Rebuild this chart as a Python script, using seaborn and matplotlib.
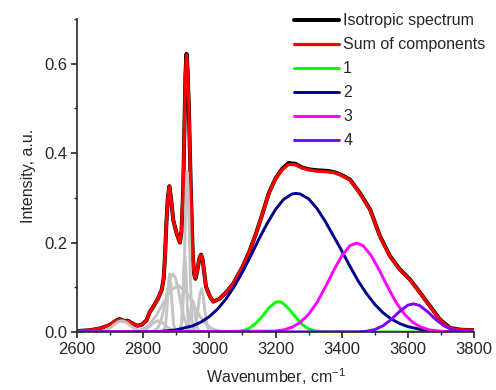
import matplotlib
matplotlib.use("Agg")
import matplotlib.pyplot as plt
import seaborn as sns
from matplotlib.ticker import MultipleLocator

# --- data ---
spec_x = [2600, 2640, 2670, 2700, 2715, 2728, 2742, 2754, 2768, 2782,
          2795, 2810, 2820, 2831, 2845, 2856, 2862, 2866, 2870, 2874,
          2879, 2884, 2891, 2901, 2911, 2916, 2921, 2925, 2928, 2931,
          2934, 2938, 2944, 2950, 2954, 2958, 2964, 2970, 2975, 2980,
          2985, 2990, 3002, 3012, 3030, 3050, 3073, 3100, 3120, 3140,
          3160, 3180, 3200, 3220, 3240, 3260, 3280, 3300, 3320, 3340,
          3360, 3380, 3400, 3425, 3455, 3486, 3516, 3546, 3576, 3607,
          3637, 3667, 3697, 3728, 3760, 3800]
sum_y = [0.002, 0.004, 0.008, 0.016, 0.024, 0.028, 0.025, 0.024, 0.019, 0.014,
         0.016, 0.026, 0.045, 0.057, 0.075, 0.094, 0.120, 0.169, 0.240, 0.295,
         0.325, 0.300, 0.250, 0.221, 0.200, 0.225, 0.318, 0.470, 0.580, 0.620,
         0.590, 0.504, 0.318, 0.169, 0.130, 0.120, 0.139, 0.165, 0.172, 0.161,
         0.130, 0.101, 0.079, 0.068, 0.074, 0.088, 0.109, 0.145, 0.178, 0.218,
         0.263, 0.310, 0.342, 0.363, 0.375, 0.374, 0.367, 0.363, 0.360, 0.359,
         0.358, 0.356, 0.350, 0.340, 0.310, 0.273, 0.213, 0.169, 0.139, 0.116,
         0.087, 0.057, 0.027, 0.008, 0.005, 0.004]
iso_y = [0.002, 0.004, 0.008, 0.016, 0.024, 0.029, 0.025, 0.025, 0.019, 0.014,
         0.016, 0.026, 0.045, 0.057, 0.075, 0.094, 0.120, 0.169, 0.240, 0.295,
         0.326, 0.300, 0.250, 0.221, 0.200, 0.225, 0.318, 0.470, 0.580, 0.622,
         0.590, 0.504, 0.318, 0.169, 0.130, 0.119, 0.139, 0.165, 0.173, 0.161,
         0.130, 0.101, 0.079, 0.068, 0.074, 0.088, 0.109, 0.145, 0.178, 0.218,
         0.263, 0.311, 0.343, 0.365, 0.378, 0.376, 0.368, 0.364, 0.362, 0.361,
         0.360, 0.357, 0.351, 0.341, 0.311, 0.274, 0.214, 0.170, 0.140, 0.117,
         0.088, 0.058, 0.028, 0.009, 0.005, 0.004]

c1_x = [2600, 3060, 3080, 3100, 3120, 3140, 3160, 3180, 3200, 3210,
        3220, 3240, 3260, 3280, 3300, 3320, 3340, 3360, 3800]
c1_y = [0.0, 0.0002, 0.0008, 0.0027, 0.008, 0.019, 0.035, 0.054, 0.0665, 0.068,
        0.066, 0.052, 0.034, 0.017, 0.007, 0.0024, 0.0007, 0.0002, 0.0]

c2_x = [2600, 2800, 2850, 2900, 2950, 2975, 3000, 3025, 3050, 3075,
        3100, 3125, 3150, 3175, 3200, 3225, 3250, 3262, 3275, 3300,
        3325, 3350, 3375, 3400, 3425, 3450, 3475, 3500, 3525, 3550,
        3575, 3600, 3650, 3700, 3750, 3800]
c2_y = [0.0, 0.0003, 0.0014, 0.0047, 0.0138, 0.0222, 0.0344, 0.0514, 0.0736, 0.1012,
        0.134, 0.170, 0.208, 0.243, 0.274, 0.297, 0.3086, 0.310, 0.3085, 0.298,
        0.2766, 0.248, 0.215, 0.182, 0.147, 0.114, 0.086, 0.062, 0.043, 0.029,
        0.019, 0.012, 0.004, 0.0013, 0.0003, 0.0]

c3_x = [2600, 3200, 3225, 3250, 3275, 3300, 3325, 3350, 3375, 3400,
        3425, 3445, 3465, 3490, 3515, 3540, 3565, 3590, 3615, 3640,
        3665, 3690, 3720, 3800]
c3_y = [0.0, 0.002, 0.0048, 0.0107, 0.0215, 0.0395, 0.0657, 0.0994, 0.1365, 0.170,
        0.193, 0.199, 0.193, 0.170, 0.1365, 0.0994, 0.0657, 0.0395, 0.0215, 0.0107,
        0.0048, 0.002, 0.0006, 0.0]

c4_x = [2600, 3450, 3475, 3500, 3525, 3550, 3575, 3600, 3617, 3635,
        3660, 3685, 3710, 3735, 3760, 3785, 3800]
c4_y = [0.0, 0.0004, 0.0017, 0.0055, 0.0139, 0.0283, 0.046, 0.060, 0.063, 0.0595,
        0.0453, 0.0276, 0.0135, 0.0052, 0.0016, 0.0004, 0.0]

# grey C-H sub-bands
gray_x = [
    [2600, 2660, 2680, 2700, 2715, 2725, 2735, 2745, 2755, 2770, 2790, 2810, 2830],
    [2760, 2780, 2800, 2815, 2830, 2845, 2860, 2875, 2890, 2910, 2930],
    [2810, 2830, 2845, 2855, 2865, 2875, 2882, 2890, 2898, 2905, 2915, 2925, 2935, 2950, 2970],
    [2740, 2780, 2800, 2820, 2840, 2860, 2880, 2905, 2930, 2950, 2970, 2990, 3010, 3030, 3050, 3070],
    [2855, 2862, 2868, 2872, 2876, 2880, 2884, 2888, 2892, 2898, 2905],
    [2905, 2911, 2916, 2920, 2923, 2926, 2929, 2932, 2936, 2941, 2947],
    [2905, 2913, 2918, 2923, 2927, 2930, 2933, 2936, 2939, 2943, 2948, 2953, 2961],
    [2922, 2930, 2936, 2941, 2946, 2950, 2954, 2959, 2964, 2970, 2978],
    [2940, 2949, 2955, 2961, 2966, 2971, 2976, 2981, 2986, 2991, 2997, 3003, 3012],
]
gray_y = [
    [0, .0003, .0022, .0094, .018, .023, .025, .023, .018, .0094, .0022, .0003, 0],
    [0, .0003, .0031, .0099, .0198, .025, .0198, .0099, .0031, .0003, 0],
    [0, .0014, .010, .028, .060, .098, .120, .130, .120, .098, .060, .028, .010, .0014, 0],
    [0, .0022, .0069, .0177, .037, .064, .090, .105, .090, .064, .037, .0177, .0069, .0022, .0006, 0],
    [0, .0014, .0176, .053, .104, .130, .104, .053, .0176, .0014, 0],
    [0, .0019, .023, .083, .142, .170, .142, .083, .023, .0019, 0],
    [0, .0032, .025, .110, .234, .322, .358, .322, .234, .110, .025, .0032, 0],
    [0, .0012, .0095, .031, .059, .070, .059, .031, .0095, .0012, 0],
    [0, .0011, .0064, .024, .052, .083, .097, .083, .052, .024, .0064, .0011, 0],
]

sns.set_style("ticks")
plt.rcParams["font.family"] = ["Liberation Sans", "DejaVu Sans"]
plt.rcParams["mathtext.default"] = "regular"

fig = plt.figure(figsize=(4.96, 3.90), dpi=100)
ax = fig.add_axes([77 / 496, 58 / 390, 397 / 496, 313 / 390])

kw = dict(ax=ax, estimator=None, sort=False)
sns.lineplot(x=spec_x, y=iso_y, color="black", lw=2.9, label="Isotropic spectrum", **kw)
sns.lineplot(x=spec_x, y=sum_y, color="#ff0000", lw=2.3, label="Sum of components", **kw)
for gx, gy in zip(gray_x, gray_y):
    sns.lineplot(x=gx, y=gy, color="#c4c4c4", lw=2.1, **kw)
sns.lineplot(x=c1_x, y=c1_y, color="#00ff00", lw=2.1, label="1", **kw)
sns.lineplot(x=c2_x, y=c2_y, color="#000090", lw=2.1, label="2", **kw)
sns.lineplot(x=c3_x, y=c3_y, color="#ff00ff", lw=2.1, label="3", **kw)
sns.lineplot(x=c4_x, y=c4_y, color="#8000ff", lw=2.1, label="4", **kw)

ax.set_xlim(2600, 3800)
ax.set_ylim(0, 0.70)
ax.xaxis.set_major_locator(MultipleLocator(200))
ax.xaxis.set_minor_locator(MultipleLocator(100))
ax.yaxis.set_major_locator(MultipleLocator(0.2))
ax.yaxis.set_minor_locator(MultipleLocator(0.1))
ax.yaxis.set_major_formatter(matplotlib.ticker.FormatStrFormatter("%.1f"))
ax.tick_params(which="major", direction="out", length=4, width=1.2, labelsize=12, pad=3)
ax.tick_params(which="minor", direction="out", length=2.5, width=1.0)
for side in ["top", "right"]:
    ax.spines[side].set_visible(False)
for side in ["left", "bottom"]:
    ax.spines[side].set_linewidth(1.2)

ax.set_xlabel("Wavenumber, cm$^{-1}$", fontsize=11.5, labelpad=7)
ax.set_ylabel("Intensity, a.u.", fontsize=11.5, labelpad=6)

ax.legend(loc="upper right", bbox_to_anchor=(0.998, 0.990), bbox_transform=fig.transFigure,
          frameon=False, fontsize=11.5, handlelength=2.8, handletextpad=0.25,
          labelspacing=0.56, borderpad=0.1)

fig.savefig("out.png", dpi=100)
